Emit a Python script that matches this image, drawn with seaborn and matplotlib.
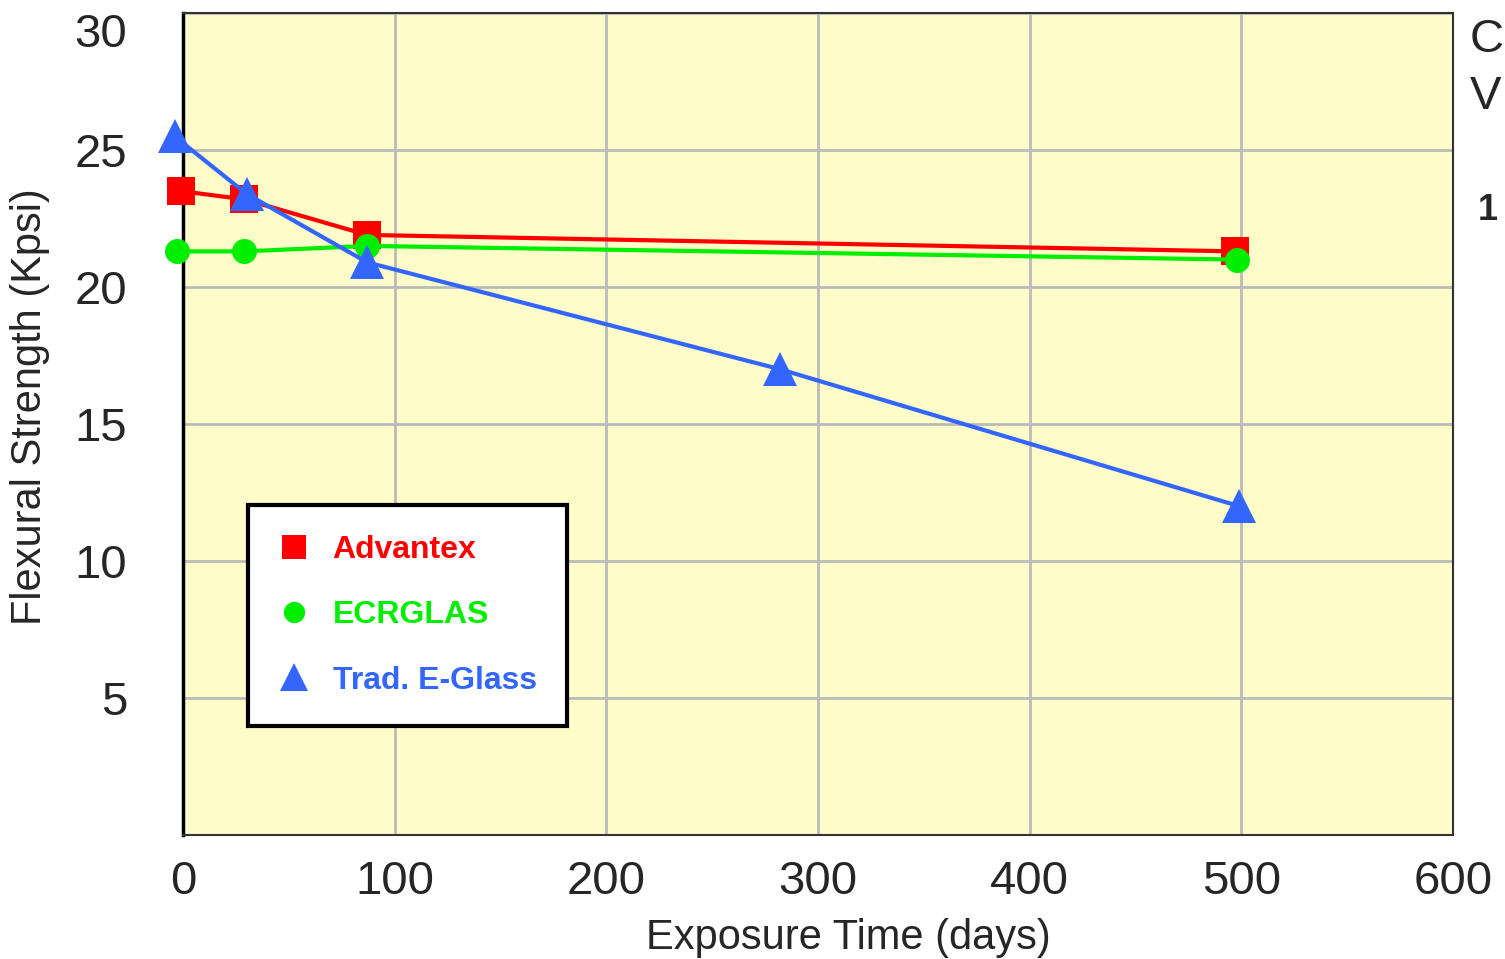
import matplotlib
matplotlib.use("Agg")
import matplotlib.pyplot as plt
from matplotlib.lines import Line2D
import seaborn as sns
import pandas as pd

# Data
adv_days = [-1, 29, 87, 497]
adv_strength = [23.5, 23.2, 21.9, 21.3]
ecr_days = [-3, 29, 87, 498]
ecr_strength = [21.3, 21.3, 21.5, 21.0]
egl_days = [-4, 30, 87, 282, 499]
egl_strength = [25.5, 23.4, 20.9, 17.0, 12.0]
series_names = ["Advantex", "ECRGLAS", "Trad. E-Glass"]
x_ticks = [0, 100, 200, 300, 400, 500, 600]
y_ticks = [5, 10, 15, 20, 25, 30]

rows = []
for name, xs, ys in zip(series_names, [adv_days, ecr_days, egl_days],
                        [adv_strength, ecr_strength, egl_strength]):
    for x, y in zip(xs, ys):
        rows.append({"days": x, "strength": y, "series": name})
df = pd.DataFrame(rows)

colors = {"Advantex": "#FF0000", "ECRGLAS": "#00EE00", "Trad. E-Glass": "#3366FF"}
markers = {"Advantex": "s", "ECRGLAS": "o", "Trad. E-Glass": "^"}
msizes = {"Advantex": 20, "ECRGLAS": 18, "Trad. E-Glass": 24}

sns.set_style("white")
plt.rcParams["font.family"] = ["Liberation Sans", "DejaVu Sans"]

fig = plt.figure(figsize=(15.05, 9.59), dpi=100)
ax = fig.add_axes([183/1505, 1-835/959, 1270/1505, 822/959])
ax.set_facecolor("#FEFCC8")

for name in series_names:
    sub = df[df["series"] == name]
    sns.lineplot(data=sub, x="days", y="strength", ax=ax, color=colors[name],
                 marker=markers[name], markersize=msizes[name], linewidth=3,
                 markeredgewidth=0, sort=False, estimator=None, legend=False,
                 zorder=3, clip_on=False)

ax.set_xlim(0, 600)
ax.set_ylim(0, 30)
ax.set_xticks(x_ticks)
ax.set_yticks(y_ticks + [0])
ax.set_yticklabels([str(v) for v in y_ticks] + [""])
ax.grid(True, color="#BBBBBB", linewidth=2)
ax.set_axisbelow(True)
ax.tick_params(axis="both", length=0, labelsize=34)
ax.tick_params(axis="x", pad=18)
ax.tick_params(axis="y", pad=40)
for lab in ax.get_yticklabels():
    if lab.get_text() == "30":
        lab.set_va("top")
for s in ["top", "right", "bottom"]:
    ax.spines[s].set_color("#333333")
    ax.spines[s].set_linewidth(1.5)
ax.spines["left"].set_color("black")
ax.spines["left"].set_linewidth(2.5)

ax.set_xlabel("Exposure Time (days)", fontsize=30)
ax.set_ylabel("Flexural Strength (Kpsi)", fontsize=30)
ax.xaxis.set_label_coords((848 - 183) / 1270, -(938 - 835) / 822)
ax.yaxis.set_label_coords(-(183 - 30) / 1270, (835 - 407) / 822)
ax.xaxis.label.set_va("center")
ax.yaxis.label.set_va("center")

handles = [Line2D([], [], linestyle="", marker=markers[n], color=colors[n],
                  markersize=msizes[n] * 0.85, markeredgewidth=0) for n in series_names]
leg = ax.legend(handles, series_names, loc="upper left",
                bbox_to_anchor=(65/1270, 330/822), frameon=True, fancybox=False,
                labelcolor=[colors[n] for n in series_names],
                borderpad=0.95, labelspacing=1.1, handlelength=1.0, handletextpad=0.7,
                borderaxespad=0, prop={"weight": "bold", "size": 23})
leg.get_frame().set_edgecolor("black")
leg.get_frame().set_linewidth(3)
leg.get_frame().set_facecolor("white")
leg.get_frame().set_alpha(1)

fig.text(1470/1505, 1-40/959, "C", fontsize=34, va="center", ha="left")
fig.text(1470/1505, 1-97/959, "V", fontsize=34, va="center", ha="left")
fig.text(1478/1505, 1-210/959, "1", fontsize=26, va="center", ha="left", weight="bold")

fig.savefig("out.png", dpi=100)
